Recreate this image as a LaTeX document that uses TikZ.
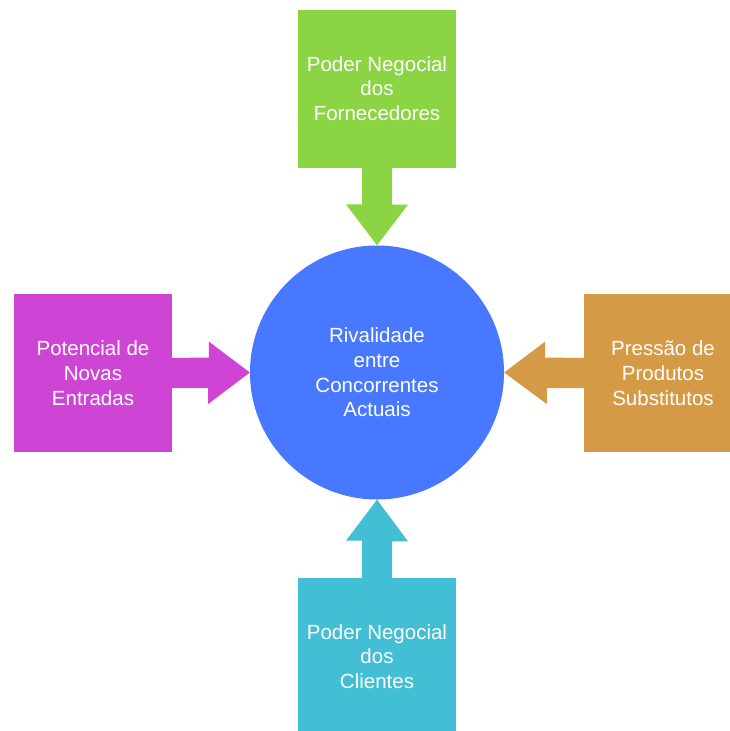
\documentclass[tikz,border=0pt]{standalone}
\usepackage{fontspec}
\setmainfont{Liberation Sans}
\usetikzlibrary{calc}
\definecolor{cgreen}{HTML}{8BD443}
\definecolor{cmag}{HTML}{CE45D5}
\definecolor{corange}{HTML}{D59A45}
\definecolor{ccyan}{HTML}{42BED5}
\definecolor{cblue}{HTML}{4778FF}
\begin{document}
\begin{tikzpicture}[x=1pt,y=1pt,
  box/.style={minimum width=158pt,minimum height=158pt,inner sep=0pt,text=white,align=center,font=\fontsize{20.5}{24.7}\selectfont},
  hub/.style={circle,fill=cblue,minimum size=254pt,inner sep=0pt,text=white,align=center,font=\fontsize{20.5}{24.7}\selectfont}]
\useasboundingbox (0,0) rectangle (729,-731);
\node[hub] (c) at (377,-372.5) {Rivalidade\\entre\\Concorrentes\\Actuais};
\node[box,fill=cgreen] (top) at (377,-88.5) {Poder Negocial\\dos\\Fornecedores};
\node[box,fill=cmag] (left) at (93,-373) {Potencial de\\Novas\\Entradas};
\node[box,fill=corange] (right) at (663,-373) {Pressão de\\Produtos\\Substitutos};
\node[box,fill=ccyan] (bottom) at (377,-656.5) {Poder Negocial\\dos\\Clientes};
% arrows
\fill[cgreen] ($(top.south)+(-15,1)$) -- ++(30,0) -- ++(0,-38) -- ++(16,0) -- (c.north) -- ($(c.north)+(-31,41)$) -- ++(16,0) -- cycle;
\fill[cmag] ($(left.east)+(-1,15)$) -- ++(0,-30) -- ++(37,0) -- ++(0,-16) -- (c.west) -- ($(c.west)+(-41,31)$) -- ++(0,-16) -- cycle;
\fill[corange] ($(right.west)+(1,15)$) -- ++(0,-30) -- ++(-38,0) -- ++(0,-16) -- (c.east) -- ($(c.east)+(41,31)$) -- ++(0,-16) -- cycle;
\fill[ccyan] ($(bottom.north)+(-15,-1)$) -- ++(30,0) -- ++(0,37) -- ++(16,0) -- (c.south) -- ($(c.south)+(-31,-41)$) -- ++(16,0) -- cycle;
\end{tikzpicture}
\end{document}
